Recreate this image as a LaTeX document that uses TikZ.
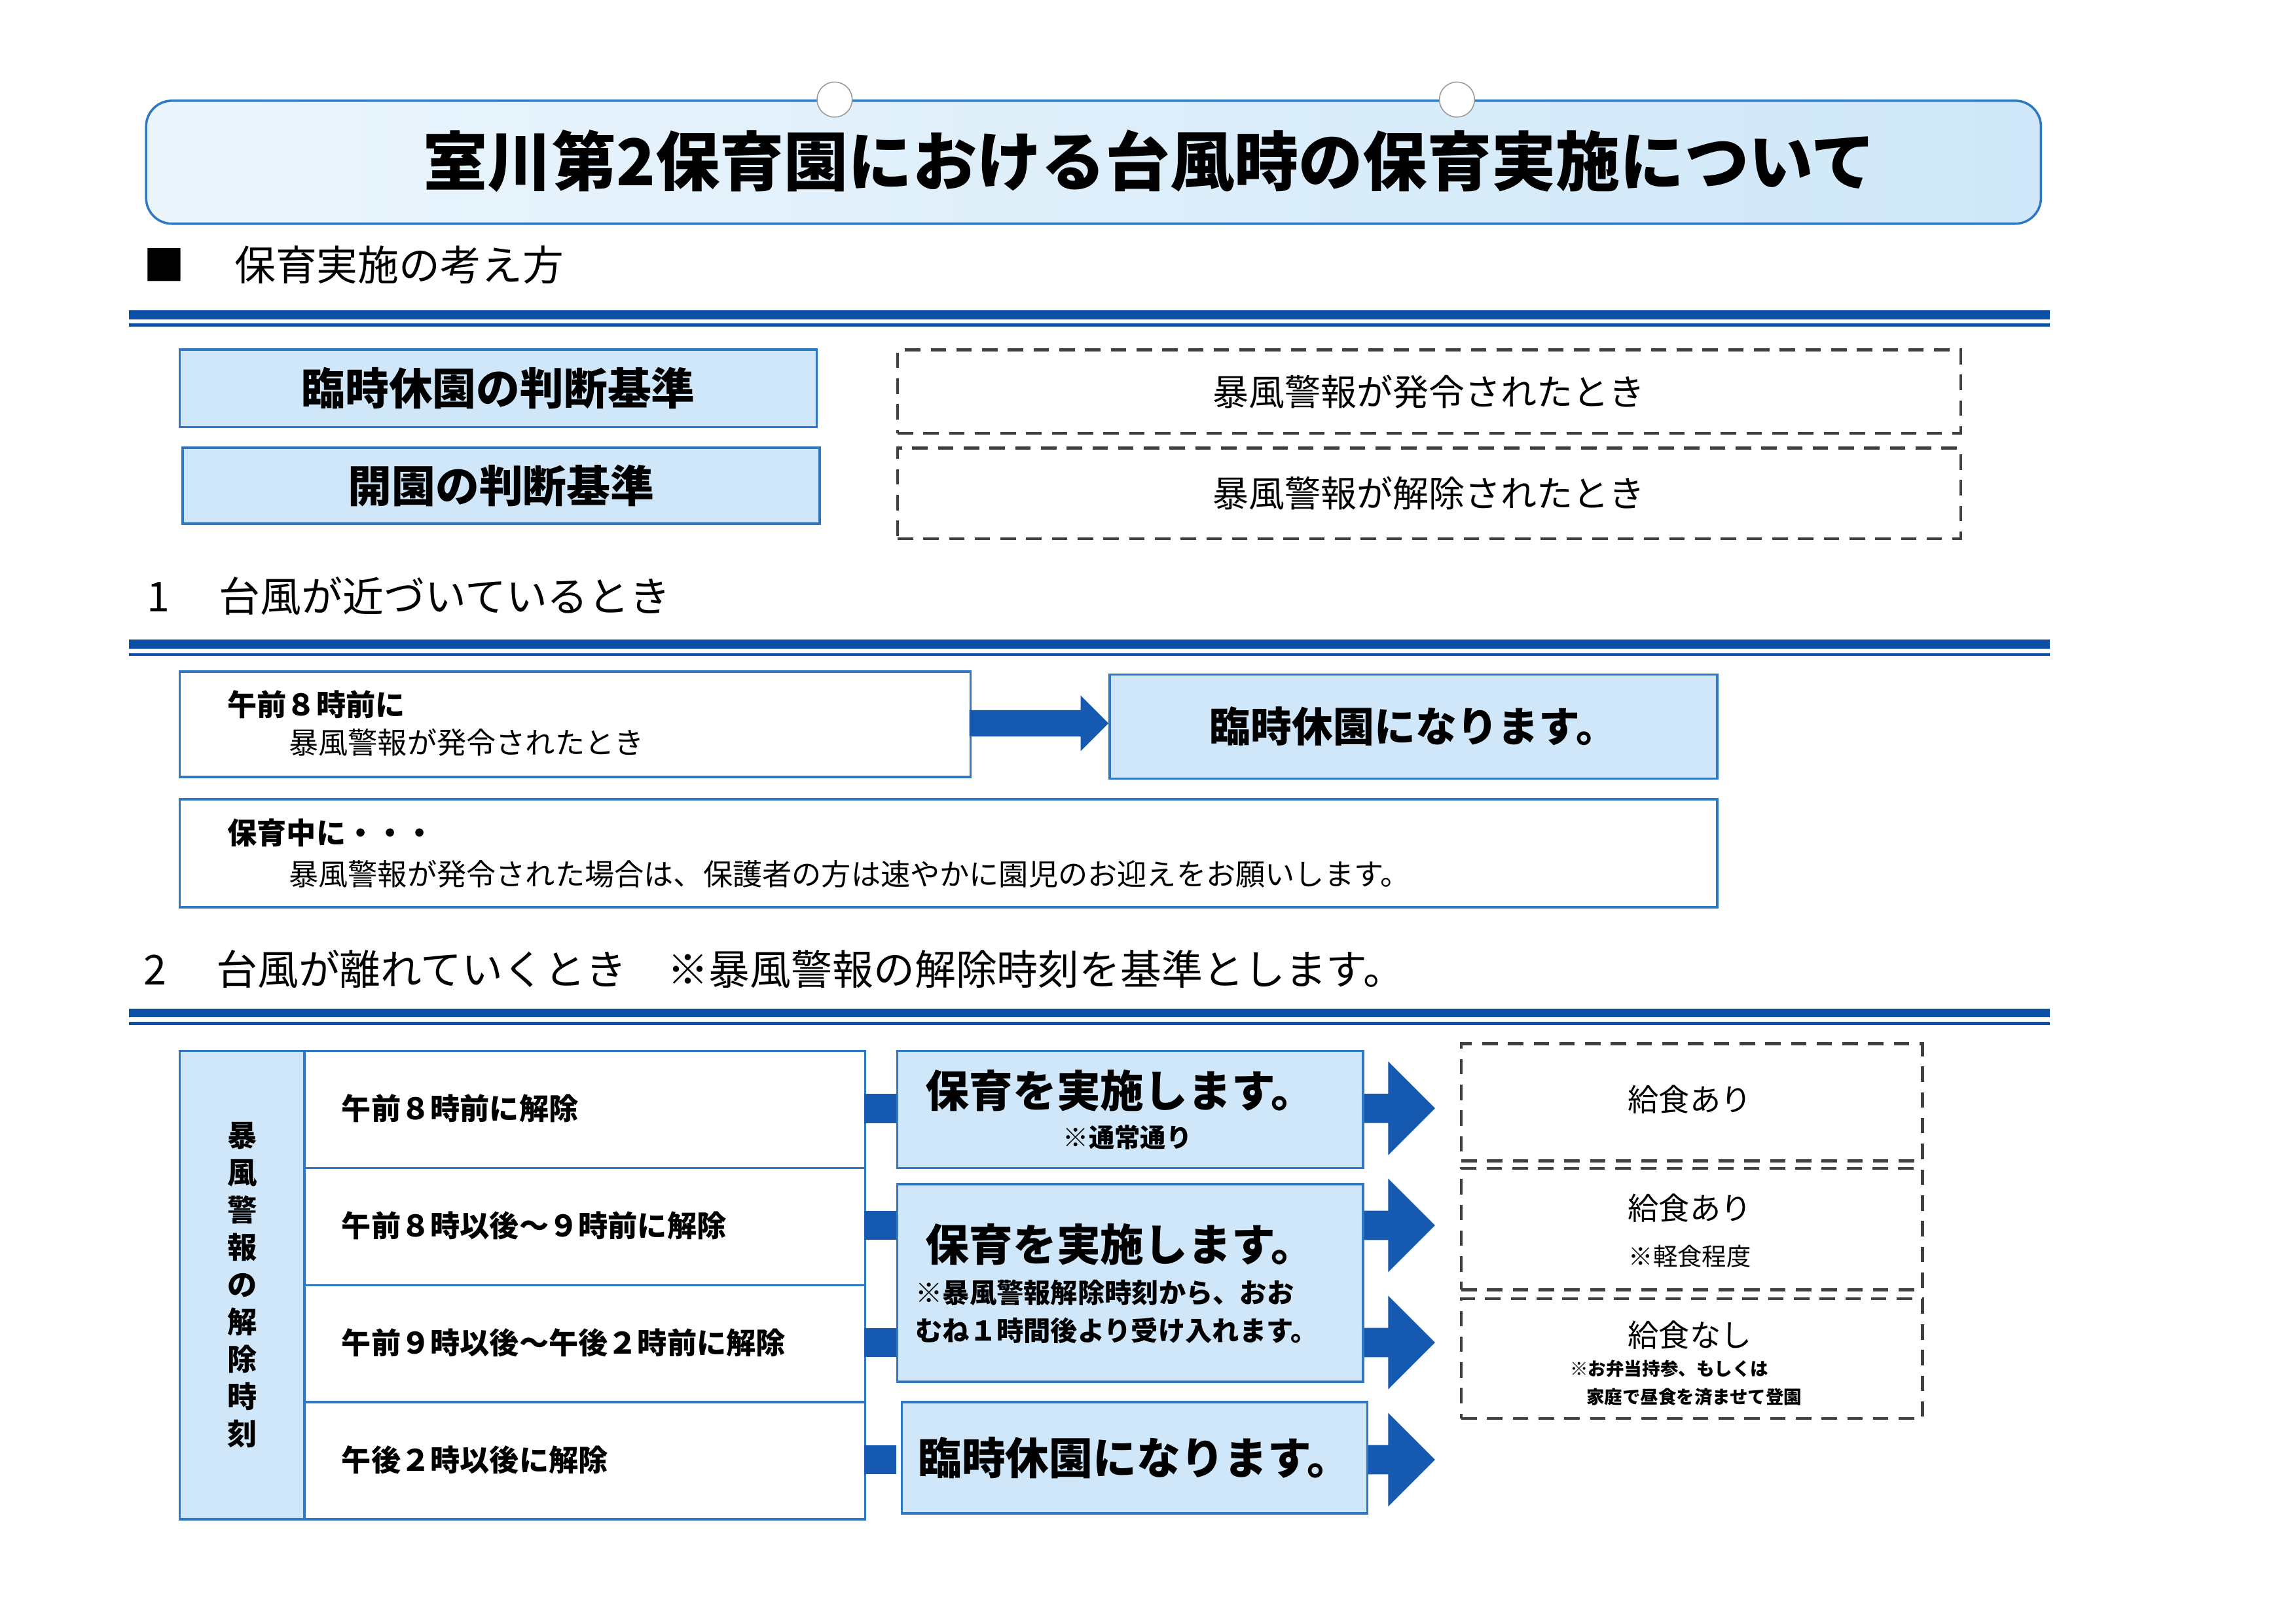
\documentclass[tikz,border=0pt]{standalone}
\usepackage{fontspec}
\setmainfont{Noto Sans CJK JP}
\usetikzlibrary{arrows.meta}
\definecolor{lb}{HTML}{CFE7F8}
\definecolor{bd}{HTML}{2F78C4}
\definecolor{ab}{HTML}{1559B0}
\definecolor{ln}{HTML}{0B4FA6}
\begin{document}
\begin{tikzpicture}[x=0.02cm,y=-0.02cm,
 fbox/.style={draw=bd,line width=0.9pt,fill=lb},
 wbox/.style={draw=bd,line width=0.9pt,fill=white},
 dbox/.style={draw=black!75,line width=1.1pt,dash pattern=on 6pt off 4pt},
 t/.style={inner sep=0,anchor=west},
 arr/.style={fill=ab,draw=none}]
\useasboundingbox (0,0) rectangle (1568,1109);
\fill[white] (0,0) rectangle (1568,1109);
% title
\node[fbox,rounded corners=10pt,minimum width=1294*0.02cm,minimum height=84*0.02cm,left color=lb!40,right color=lb,anchor=north west] (title) at (99,68) {};
\node[inner sep=0,font=\bfseries\fontsize{25}{25}\selectfont] (tt) at (785,110) {室川第2保育園における台風時の保育実施について};
\node[circle,draw=black!40,fill=white,minimum size=24*0.02cm,inner sep=0] (h1) at (570,68) {};
\node[circle,draw=black!40,fill=white,minimum size=24*0.02cm,inner sep=0] (h2) at (995,68) {};
% section headings
\node[t,font=\fontsize{16}{16}\selectfont] (s0) at (98,181) {■\hspace{1.2em}保育実施の考え方};
\node[t,font=\fontsize{16}{16}\selectfont] (s1) at (100,407) {1\hspace{1.2em}台風が近づいているとき};
\node[t,font=\fontsize{16}{16}\selectfont] (s2) at (98,662) {2\hspace{1.2em}台風が離れていくとき\hspace{1em}※暴風警報の解除時刻を基準とします。};
\foreach \y in {215,440,692}{
 \fill[ln] (88,\y-3) rectangle (1400,\y+3);
 \fill[ln] (88,\y+6) rectangle (1400,\y+8);}
% criteria
\node[fbox,minimum width=435*0.02cm,minimum height=53*0.02cm,anchor=north west,font=\bfseries\fontsize{17}{17}\selectfont] (c1) at (122,238) {臨時休園の判断基準};
\node[fbox,minimum width=435*0.02cm,minimum height=52*0.02cm,anchor=north west,font=\bfseries\fontsize{17}{17}\selectfont] (c2) at (124,305) {開園の判断基準};
\node[dbox,minimum width=726*0.02cm,minimum height=57*0.02cm,anchor=north west,font=\fontsize{14}{14}\selectfont] (d1) at (612,238) {暴風警報が発令されたとき};
\node[dbox,minimum width=726*0.02cm,minimum height=62*0.02cm,anchor=north west,font=\fontsize{14}{14}\selectfont] (d2) at (612,305) {暴風警報が解除されたとき};
% section 1
\node[wbox,minimum width=540*0.02cm,minimum height=72*0.02cm,anchor=north west] (b1) at (122,458) {};
\node[t,font=\bfseries\fontsize{11.5}{12}\selectfont] (b1a) at (155,481) {午前８時前に};
\node[t,font=\fontsize{11.5}{12}\selectfont] (b1b) at (197,507) {暴風警報が発令されたとき};
\node[fbox,minimum width=415*0.02cm,minimum height=71*0.02cm,anchor=north west,font=\bfseries\fontsize{16}{16}\selectfont] (b2) at (757,460) {臨時休園になります。};
\fill[ab] (662,485) -- (738,485) -- (738,475) -- (757,494) -- (738,513) -- (738,503) -- (662,503) -- cycle;
\node[wbox,minimum width=1050*0.02cm,minimum height=74*0.02cm,anchor=north west] (b3) at (122,545) {};
\node[t,font=\bfseries\fontsize{11.5}{12}\selectfont] (b3a) at (155,569) {保育中に・・・};
\node[t,font=\fontsize{11.5}{12}\selectfont] (b3b) at (197,597) {暴風警報が発令された場合は、保護者の方は速やかに園児のお迎えをお願いします。};
% section 2 table
\node[fbox,minimum width=85*0.02cm,minimum height=320*0.02cm,anchor=north west,align=center,font=\bfseries\fontsize{11.5}{14.5}\selectfont] (tl) at (122,717) {暴\\風\\警\\報\\の\\解\\除\\時\\刻};
\foreach \y/\s [count=\i] in {717/午前８時前に解除,797/午前８時以後～９時前に解除,877/午前９時以後～午後２時前に解除,957/午後２時以後に解除}{
 \node[wbox,minimum width=383*0.02cm,minimum height=80*0.02cm,anchor=north west] (r\i) at (207,\y) {};
 \node[t,font=\bfseries\fontsize{11.5}{12}\selectfont] (rt\i) at (233,\y+40) {\s};
 \fill[ab] (590,\y+30) rectangle (612,\y+50);
 \fill[ab] (930,\y+30) -- (948,\y+30) -- (948,\y+8) -- (980,\y+40) -- (948,\y+72) -- (948,\y+50) -- (930,\y+50) -- cycle;}
\node[fbox,minimum width=318*0.02cm,minimum height=80*0.02cm,anchor=north west] (p1) at (612,717) {};
\node[inner sep=0,font=\bfseries\fontsize{17}{17}\selectfont] (p1a) at (765,745) {保育を実施します。};
\node[inner sep=0,font=\bfseries\fontsize{10}{10}\selectfont] (p1b) at (770,777) {※通常通り};
\node[fbox,minimum width=318*0.02cm,minimum height=135*0.02cm,anchor=north west] (p2) at (612,808) {};
\node[inner sep=0,font=\bfseries\fontsize{17}{17}\selectfont] (p2a) at (765,850) {保育を実施します。};
\node[t,font=\bfseries\fontsize{10.5}{11}\selectfont] (p2b) at (625,883) {※暴風警報解除時刻から、おお};
\node[t,font=\bfseries\fontsize{10.5}{11}\selectfont] (p2c) at (625,909) {むね１時間後より受け入れます。};
\node[fbox,minimum width=318*0.02cm,minimum height=76*0.02cm,anchor=north west,font=\bfseries\fontsize{17}{17}\selectfont] (p3) at (615,957) {臨時休園になります。};
% lunch boxes
\node[dbox,minimum width=315*0.02cm,minimum height=80*0.02cm,anchor=north west] (q1) at (997,712) {};
\node[inner sep=0,font=\fontsize{12}{12}\selectfont] (q1a) at (1154,751) {給食あり};
\node[dbox,minimum width=315*0.02cm,minimum height=83*0.02cm,anchor=north west] (q2) at (997,797) {};
\node[inner sep=0,font=\fontsize{12}{12}\selectfont] (q2a) at (1154,825) {給食あり};
\node[inner sep=0,font=\fontsize{9.5}{10}\selectfont] (q2b) at (1154,858) {※軽食程度};
\node[dbox,minimum width=315*0.02cm,minimum height=82*0.02cm,anchor=north west] (q3) at (997,886) {};
\node[inner sep=0,font=\fontsize{12}{12}\selectfont] (q3a) at (1154,912) {給食なし};
\node[inner sep=0,font=\bfseries\fontsize{7}{7}\selectfont] (q3b) at (1140,935) {※お弁当持参、もしくは};
\node[inner sep=0,font=\bfseries\fontsize{7}{7}\selectfont] (q3c) at (1157,954) {家庭で昼食を済ませて登園};
\end{tikzpicture}
\end{document}
